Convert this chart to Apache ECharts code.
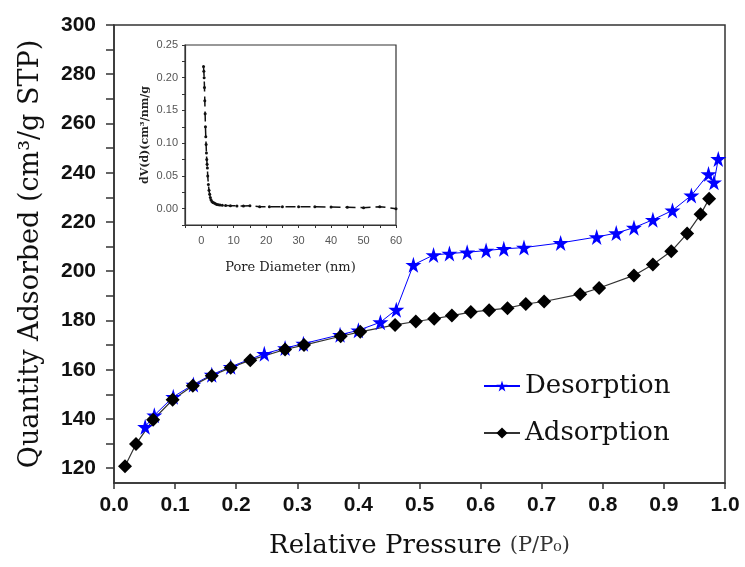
<!DOCTYPE html>
<html lang="en">
<head>
    <meta charset="UTF-8">
    <title>Isotherm</title>
    <script src="https://cdn.jsdelivr.net/npm/echarts@6/dist/echarts.min.js"></script>
</head>
<body style="margin:0">
<div id="echart" style="width:745px;height:567px"></div>
<script>
    // adsorption branch (P/P0, cm3/g STP)
    var adsP = [0.018, 0.036, 0.064, 0.096, 0.129, 0.160, 0.191, 0.223, 0.280, 0.311, 0.371, 0.403, 0.460, 0.494,
        0.524, 0.553, 0.584, 0.614, 0.644, 0.674, 0.704, 0.763, 0.794, 0.851, 0.882, 0.912, 0.938, 0.960, 0.974]
    var adsV = [120.8, 129.8, 139.7, 147.8, 153.5, 157.6, 160.8, 163.9, 168.2, 170.0, 173.6, 175.4, 178.2, 179.6,
        180.7, 182.0, 183.4, 184.2, 185.0, 186.7, 187.7, 190.7, 193.2, 198.3, 202.7, 208.1, 215.3, 223.1, 229.4]

    // desorption branch
    var desP = [0.051, 0.066, 0.097, 0.130, 0.160, 0.191, 0.246, 0.280, 0.310, 0.370, 0.400, 0.436, 0.462, 0.490,
        0.523, 0.549, 0.578, 0.609, 0.638, 0.671, 0.731, 0.790, 0.822, 0.851, 0.882, 0.914, 0.945, 0.973, 0.982, 0.989]
    var desV = [136.8, 141.5, 149.0, 154.0, 158.0, 161.2, 166.5, 168.8, 170.6, 174.2, 176.0, 179.3, 184.4, 202.6,
        206.6, 207.2, 207.7, 208.4, 209.1, 209.6, 211.5, 213.9, 215.5, 217.7, 220.9, 224.7, 230.8, 239.5, 236.1, 245.6]

    // inset: pore size distribution
    var poreD = [0.7, 0.8, 0.9, 1.0, 1.1, 1.2, 1.3, 1.4, 1.5, 1.6, 1.7, 1.8, 1.9, 2.0, 2.2, 2.4, 2.6, 2.8, 3.0, 3.3,
        3.6, 4.0, 4.4, 4.8, 5.3, 5.8, 6.5, 7.5, 9, 11, 13, 15, 18, 21, 25, 30, 35, 40, 45, 50, 55, 60]
    var poreV = [0.217, 0.210, 0.200, 0.185, 0.165, 0.145, 0.125, 0.110, 0.098, 0.085, 0.075, 0.068, 0.062, 0.050,
        0.037, 0.028, 0.022, 0.017, 0.0137, 0.011, 0.0095, 0.0085, 0.0075, 0.0065, 0.006, 0.0055, 0.005, 0.0048,
        0.0046, 0.0042, 0.004, 0.0045, 0.003, 0.003, 0.003, 0.0028, 0.0028, 0.0025, 0.002, 0.0015, 0.003, 0.0]

    var yLabels = [120, 140, 160, 180, 200, 220, 240, 260, 280, 300]
    var yTicks = [120, 130, 140, 150, 160, 170, 180, 190, 200, 210, 220, 230, 240, 250, 260, 270, 280, 290, 300]

    function zip(a, b) {
        var out = []
        for (var i = 0; i < a.length; i++) out.push([a[i], b[i]])
        return out
    }

    var star = 'path://M50,0 L61,35 L98,35 L68,57 L79,91 L50,70 L21,91 L32,57 L2,35 L39,35 Z'
    var serif = 'DejaVu Serif'
    var sans = 'Liberation Sans'

    myChart = echarts.init(document.getElementById('echart'))
    myChart.setOption({
        animation: false,
        backgroundColor: '#fff',
        grid: [
            {left: 114, right: 20, top: 25, bottom: 84, show: true, borderColor: '#333', borderWidth: 1.5},
            {left: 185, top: 45, width: 211, height: 180, show: true, borderColor: '#333', borderWidth: 1.2}
        ],
        legend: {
            data: ['Desorption', 'Adsorption'],
            orient: 'vertical',
            left: 478,
            top: 367,
            itemWidth: 36,
            itemHeight: 14,
            itemGap: 19,
            textStyle: {fontFamily: serif, fontSize: 26, color: '#111', lineHeight: 28}
        },
        xAxis: [{
            gridIndex: 0,
            type: 'value',
            min: 0, max: 1, interval: 0.1,
            name: '{a|Relative Pressure }{b|(P/P₀)}',
            nameLocation: 'middle',
            nameGap: 50,
            nameTextStyle: {
                rich: {
                    a: {fontFamily: serif, fontSize: 26, color: '#111'},
                    b: {fontFamily: serif, fontSize: 21, color: '#333'}
                }
            },
            axisLine: {lineStyle: {color: '#333', width: 1.5}},
            axisTick: {inside: false, length: 6, lineStyle: {color: '#333', width: 1.5}},
            axisLabel: {
                fontFamily: sans, fontSize: 21, fontWeight: 'bold', color: '#111', margin: 12,
                formatter: function (v) { return v.toFixed(1) }
            },
            splitLine: {show: false}
        }, {
            gridIndex: 1,
            type: 'value',
            min: -5, max: 60, interval: 5,
            name: 'Pore Diameter (nm)',
            nameLocation: 'middle',
            nameGap: 36,
            nameTextStyle: {fontFamily: serif, fontSize: 13, color: '#222'},
            axisLine: {onZero: false, lineStyle: {color: '#333', width: 1.2}},
            axisTick: {length: 3, lineStyle: {color: '#333'}},
            axisLabel: {
                fontFamily: sans, fontSize: 11, color: '#555', margin: 10,
                formatter: function (v) { return (v >= 0 && v % 10 === 0) ? String(v) : '' }
            },
            splitLine: {show: false}
        }],
        yAxis: [{
            gridIndex: 0,
            type: 'value',
            min: 114, max: 300,
            name: 'Quantity Adsorbed (cm³/g STP)',
            nameLocation: 'middle',
            nameGap: 70,
            nameTextStyle: {fontFamily: serif, fontSize: 27, color: '#111'},
            axisLine: {lineStyle: {color: '#333', width: 1.5}},
            axisTick: {length: 8, customValues: yTicks, lineStyle: {color: '#333', width: 1.5}},
            axisLabel: {
                fontFamily: sans, fontSize: 21, fontWeight: 'bold', color: '#111', margin: 18,
                customValues: yLabels
            },
            splitLine: {show: false}
        }, {
            gridIndex: 1,
            type: 'value',
            min: -0.025, max: 0.25, interval: 0.025,
            name: 'dV(d)(cm³/nm/g',
            nameLocation: 'middle',
            nameGap: 34,
            nameTextStyle: {fontFamily: serif, fontSize: 11, fontWeight: 'bold', color: '#222'},
            axisLine: {onZero: false, lineStyle: {color: '#333', width: 1.2}},
            axisTick: {length: 3, lineStyle: {color: '#333'}},
            axisLabel: {
                fontFamily: sans, fontSize: 11, color: '#555', margin: 7,
                formatter: function (v) {
                    var k = v / 0.05
                    return (v > -0.001 && Math.abs(k - Math.round(k)) < 1e-6) ? v.toFixed(2) : ''
                }
            },
            splitLine: {show: false}
        }],
        series: [{
            name: 'Desorption',
            type: 'line',
            xAxisIndex: 0, yAxisIndex: 0,
            data: zip(desP, desV),
            symbol: star,
            symbolSize: 16,
            itemStyle: {color: '#0000ff'},
            lineStyle: {color: '#0000ff', width: 1}
        }, {
            name: 'Adsorption',
            type: 'line',
            xAxisIndex: 0, yAxisIndex: 0,
            data: zip(adsP, adsV),
            symbol: 'diamond',
            symbolSize: 14,
            itemStyle: {color: '#000'},
            lineStyle: {color: '#333', width: 1.2}
        }, {
            name: 'PSD',
            type: 'line',
            xAxisIndex: 1, yAxisIndex: 1,
            data: zip(poreD, poreV),
            symbol: 'circle',
            symbolSize: 3,
            itemStyle: {color: '#111'},
            lineStyle: {color: '#111', width: 1.5, type: [10, 5]}
        }]
    })
</script>
</body>
</html>
